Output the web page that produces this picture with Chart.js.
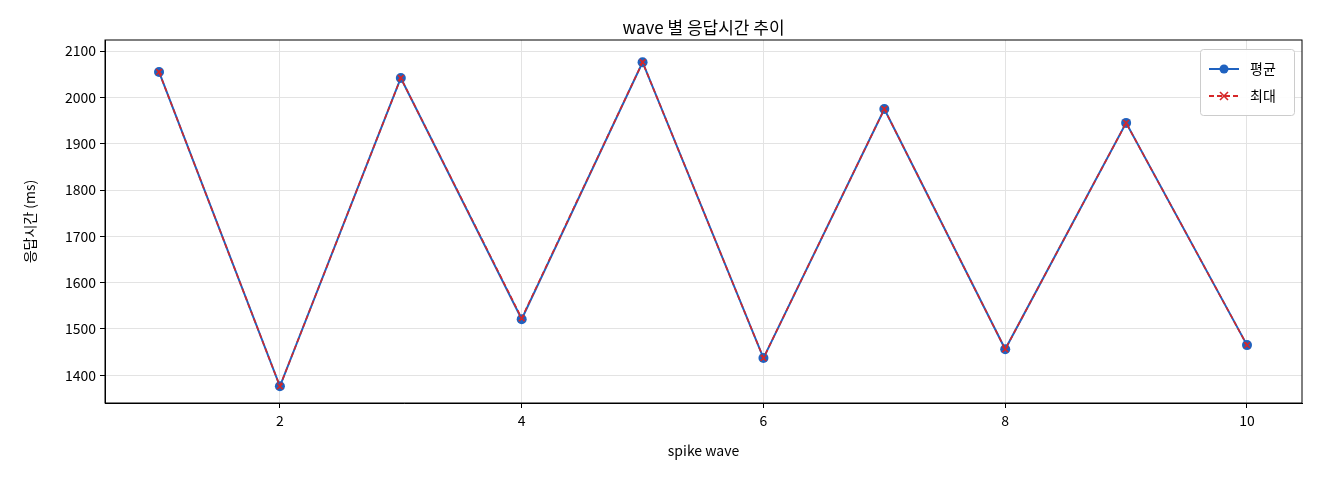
<!DOCTYPE html>
<html><head><meta charset="utf-8">
<script src="https://cdn.jsdelivr.net/npm/chart.js@4/dist/chart.umd.min.js"></script>
<style>html,body{margin:0;background:#fff}#w{width:1320px;height:480px}</style>
</head><body><div id="w"><canvas id="c"></canvas></div>
<script>
const waves=[1,2,3,4,5,6,7,8,9,10];
const avgMs=[2055,1376,2042,1521,2076,1437,1975,1456,1945,1465];
const maxMs=[2055,1376,2042,1523,2076,1437,1975,1456,1945,1465];
const xTicks=[2,4,6,8,10];
const yTicks=[1400,1500,1600,1700,1800,1900,2000,2100];
const F='"Noto Sans CJK KR","DejaVu Sans",sans-serif';
const BLUE='#1f62c0',RED='#d62728';
const extras={id:'extras',afterDraw(ch){const c=ch.ctx,a=ch.chartArea;c.save();
c.fillStyle='#000';c.font='17px '+F;c.textAlign='center';c.textBaseline='middle';
c.fillText('wave 별 응답시간 추이',(a.left+a.right)/2,28);
c.font='14px '+F;c.fillText('spike wave',(a.left+a.right)/2,451);
c.translate(30,(a.top+a.bottom)/2);c.rotate(-Math.PI/2);c.fillText('응답시간 (ms)',0,0);c.restore();
c.save();const bx=a.right-102,by=a.top+9,bw=94,bh=66;
c.fillStyle='rgba(255,255,255,0.9)';c.strokeStyle='#ccc';c.lineWidth=1;
c.beginPath();c.roundRect(bx+.5,by+.5,bw,bh,3);c.fill();c.stroke();
const items=[['평균',BLUE,[],'c'],['최대',RED,[5,3],'x']];
items.forEach((it,i)=>{const y=by+20+i*27;c.strokeStyle=it[1];c.lineWidth=2;c.setLineDash(it[2]);
c.beginPath();c.moveTo(bx+9,y);c.lineTo(bx+39,y);c.stroke();c.setLineDash([]);
if(it[3]=='c'){c.fillStyle=it[1];c.beginPath();c.arc(bx+24,y,4.5,0,7);c.fill();}
else{c.lineWidth=1.6;c.beginPath();c.moveTo(bx+20,y-4);c.lineTo(bx+28,y+4);c.moveTo(bx+28,y-4);c.lineTo(bx+20,y+4);c.stroke();}
c.fillStyle='#000';c.font='14px '+F;c.textAlign='left';c.textBaseline='middle';c.fillText(it[0],bx+50,y);});
c.restore();}};
new Chart(document.getElementById('c'),{type:'line',
data:{datasets:[
{label:'평균',order:2,data:waves.map((x,i)=>({x,y:avgMs[i]})),borderColor:BLUE,backgroundColor:BLUE,borderWidth:2,pointRadius:5,pointStyle:'circle',pointBorderWidth:0},
{label:'최대',order:1,data:waves.map((x,i)=>({x,y:maxMs[i]})),borderColor:RED,backgroundColor:RED,borderWidth:1.6,borderDash:[5,3],pointRadius:4,pointStyle:'crossRot',pointBorderWidth:1.6}]},
options:{responsive:true,maintainAspectRatio:false,animation:false,
layout:{padding:{top:40,right:18,left:0,bottom:0}},
plugins:{legend:{display:false},title:{display:false},tooltip:{enabled:false}},
scales:{
x:{type:'linear',min:0.553,max:10.455,afterBuildTicks:s=>{s.ticks=xTicks.map(v=>({value:v}))},afterFit:s=>{s.height=77},
grid:{color:'#e3e3e3',tickLength:5,tickColor:'#000'},border:{color:'#000'},ticks:{color:'#000',font:{family:F,size:14},padding:4,maxRotation:0,callback:v=>String(v)}},
y:{min:1340,max:2124,afterBuildTicks:s=>{s.ticks=yTicks.map(v=>({value:v}))},afterFit:s=>{s.width=105},
grid:{color:'#e3e3e3',tickLength:5,tickColor:'#000'},border:{color:'#000'},ticks:{color:'#000',font:{family:F,size:14},padding:4,callback:v=>String(v)}}}},
plugins:[extras,{id:'frame',afterDatasetsDraw(ch){const c=ch.ctx,a=ch.chartArea;c.save();c.strokeStyle='#000';c.lineWidth=1;c.strokeRect(a.left,a.top,a.right-a.left,a.bottom-a.top);c.restore();}}]});
</script></body></html>
